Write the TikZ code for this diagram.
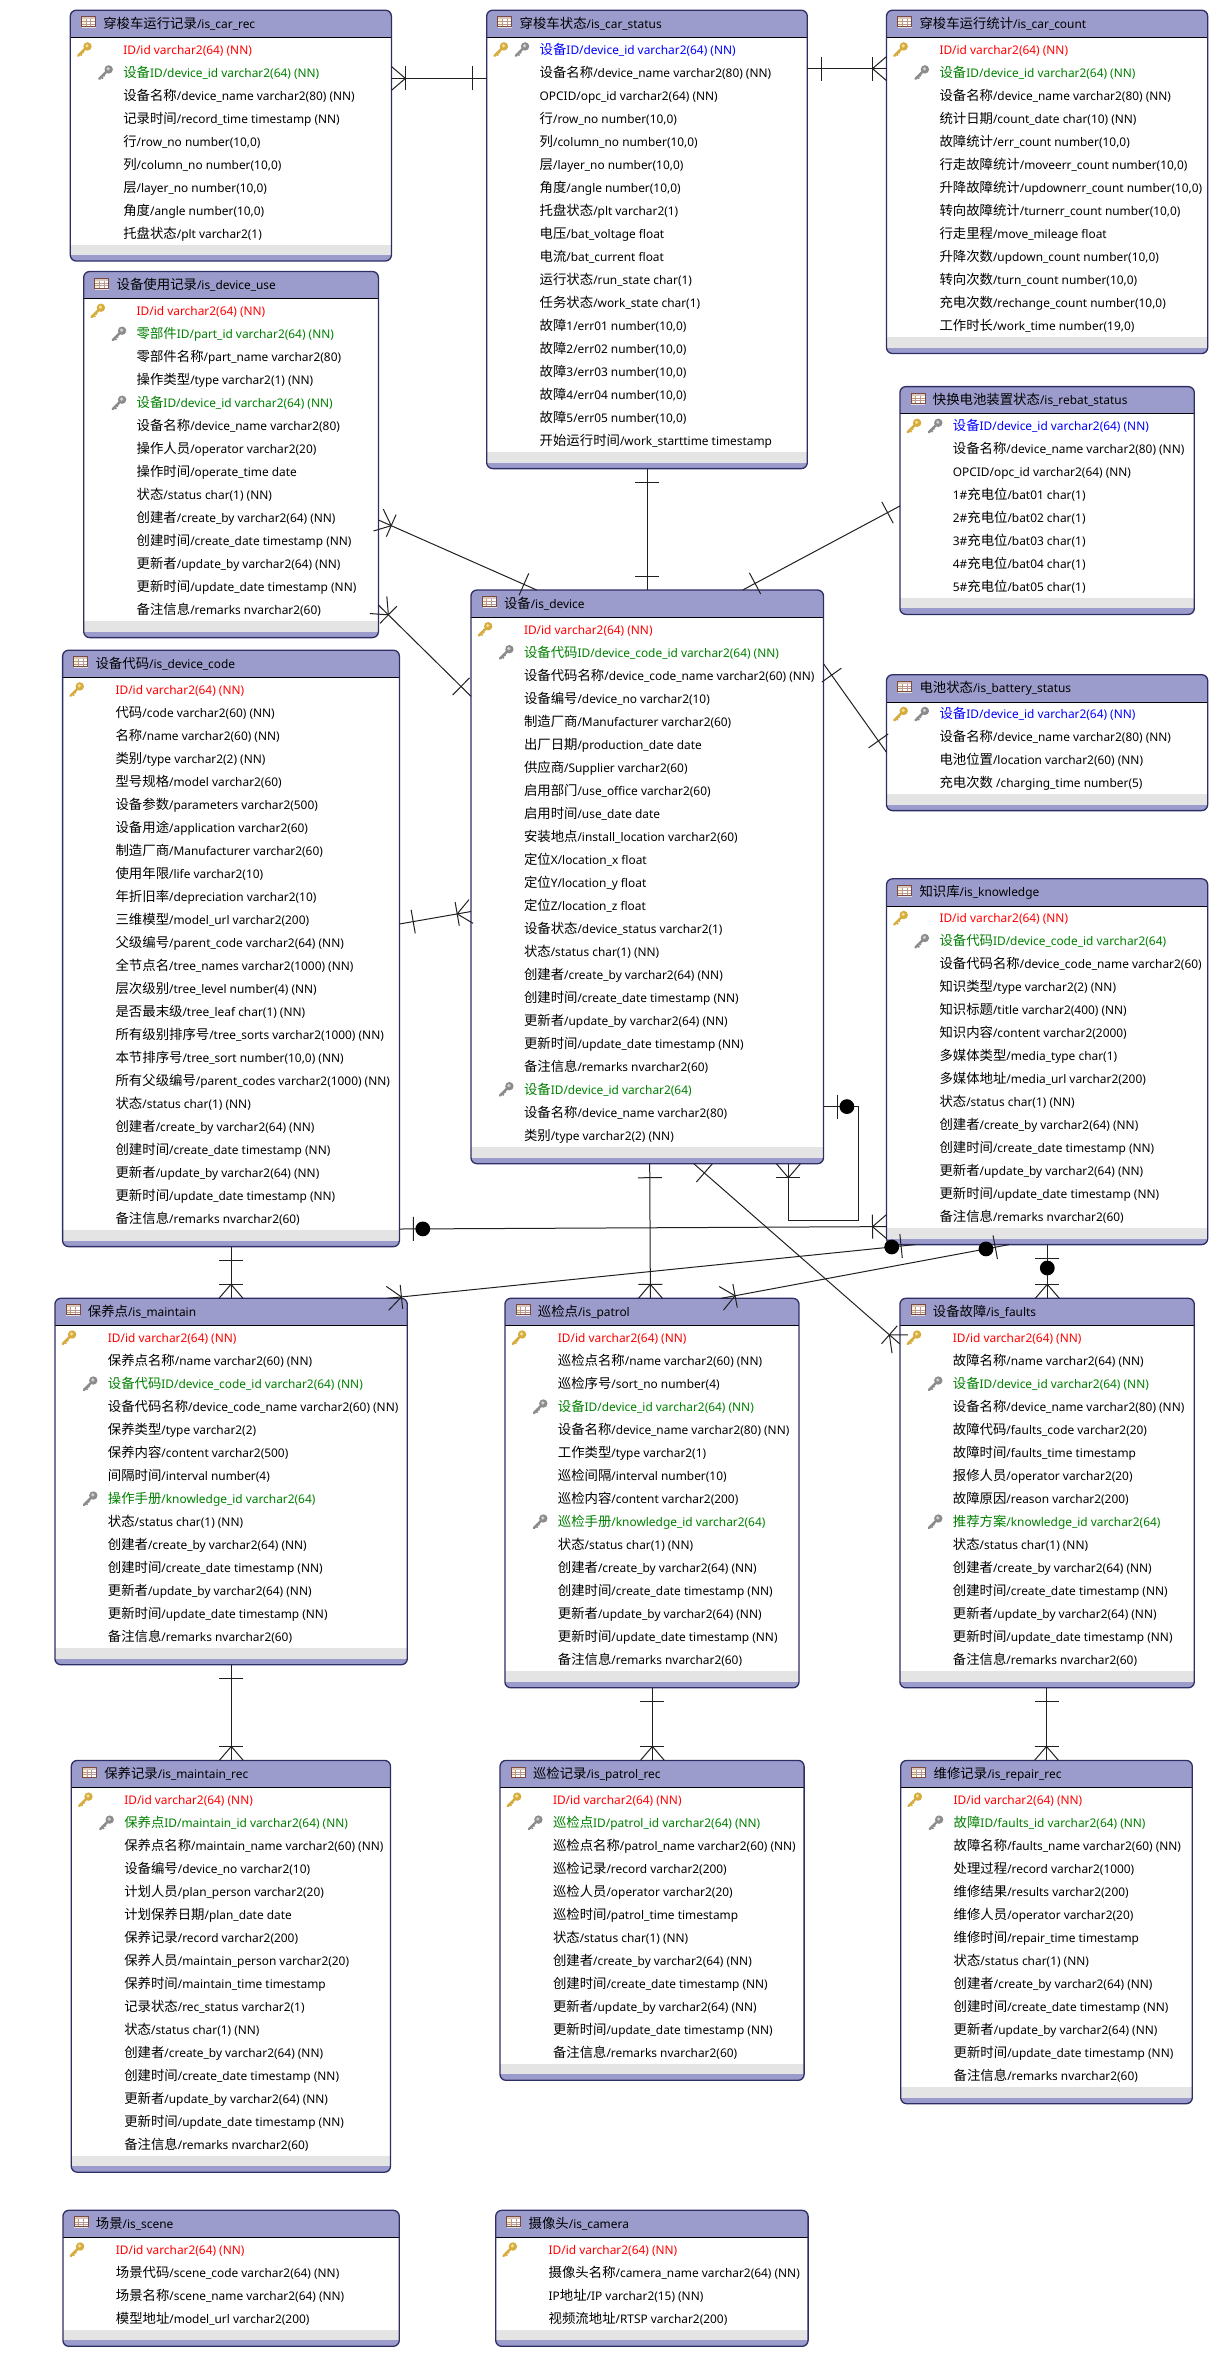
\documentclass[tikz,border=0pt]{standalone}
\usepackage{fontspec}
\setmainfont{Noto Sans}
\newfontfamily\cjkf[Scale=1.125]{Noto Sans CJK SC}
\usetikzlibrary{calc}
\newcount\cjkc \cjkc="4E00
\loop\ifnum\cjkc<"A000 \XeTeXcharclass\cjkc=100 \advance\cjkc by 1 \repeat
\XeTeXinterchartokenstate=1
\XeTeXinterchartoks 0 100={\begingroup\cjkf}
\XeTeXinterchartoks 4095 100={\begingroup\cjkf}
\XeTeXinterchartoks 100 0={\endgroup}
\XeTeXinterchartoks 100 4095={\endgroup}
\catcode`\_=12
\definecolor{hdr}{HTML}{9C9CCC}
\definecolor{edge}{HTML}{2E2E66}
\definecolor{band}{HTML}{E4E4E4}
\definecolor{relc}{HTML}{202020}
\definecolor{goldk}{HTML}{D6AC3E}
\definecolor{goldl}{HTML}{F4DE94}
\definecolor{greyk}{HTML}{8C8C8C}
\definecolor{greyl}{HTML}{D0D0D0}
\definecolor{fkgreen}{HTML}{008000}
\definecolor{icb}{HTML}{7A4A40}
\definecolor{ict}{HTML}{D8C8C0}
\definecolor{icc}{HTML}{FBF3D0}
\definecolor{icg}{HTML}{B89A90}
\tikzset{
  tablebox/.style={anchor=north west,inner sep=0pt,outer sep=0pt,rounded corners=3pt,fill=white},
  rowtext/.style={anchor=base west,inner sep=0pt,outer sep=0pt,font=\fontsize{5.95}{7}\selectfont},
  rel/.style={draw=relc,line width=0.5pt},
}
\newcount\rownum
\newcommand\tbl[6]{%
  \xdef\tn{#1}\xdef\tl{#2}\xdef\tt{#4}\global\rownum=0
  \node[tablebox,minimum width={(#3-#2)*0.5pt},minimum height={(#5-#4)*0.5pt}] (#1) at (#2,#4) {};
  \begin{scope}
    \clip[rounded corners=3pt] (#1.north west) rectangle (#1.south east);
    \fill[hdr] (#2,#4) rectangle (#3,{#4+27.3});
    \fill[band] (#2,{#5-16.5}) rectangle (#3,{#5-6});
    \fill[hdr] (#2,{#5-6}) rectangle (#3,#5);
  \end{scope}
  \draw[black,line width=0.5pt] (#2,{#4+27.3}) -- (#3,{#4+27.3});
  \draw[edge,line width=0.65pt,rounded corners=3pt] (#1.north west) rectangle (#1.south east);
  \tblicon{#2}{#4}
  \node[rowtext] (#1-title) at ({#2+33},{#4+18}) {#6};
}
\newcommand\tblicon[2]{%
  \begin{scope}[shift={({#1+11},{#2+6.5})}]
    \fill[black!12] (0.5,1) rectangle (14.5,11.5);
    \fill[white] (0,0) rectangle (14,10);
    \fill[ict] (0,0) rectangle (14,2.6);
    \fill[icc] (0,2.6) rectangle (4.6,10);
    \draw[icg,line width=0.22pt] (4.6,2.6) -- (4.6,10) (9.3,2.6) -- (9.3,10) (0,5) -- (14,5) (0,7.5) -- (14,7.5);
    \draw[icb,line width=0.4pt] (0,0) rectangle (14,10);
  \end{scope}
}
\newcommand\keyicon[4]{% x y dark light
  \begin{scope}[shift={(#1,#2)}]
    \draw[#3,line width=1.2pt,line cap=round] (-6.2,6.2) -- (2,-2);
    \draw[#3,line width=0.8pt] (-4.2,4.2) -- (-2.4,6) (-2.2,2.2) -- (-0.8,3.6);
    \fill[#3] (3.2,-3.2) circle (4.2);
    \fill[#4] (2.7,-3.8) circle (1.8);
  \end{scope}
}
\newcommand\rowcore[2]{%
  \global\advance\rownum by 1
  \pgfmathsetmacro\ty{\tt+39.4+23*(\the\rownum-1)}%
  \pgfmathsetmacro\tx{\tl+53}%
  \node[rowtext,text=#1] (\tn-\the\rownum) at (\tx,\ty+4.6) {#2};
}
\newcommand\pkhere{\pgfmathsetmacro\ky{\tt+39.4+23*\the\rownum}\pgfmathsetmacro\kx{\tl+14}\keyicon{\kx}{\ky}{goldk}{goldl}}
\newcommand\fkhere{\pgfmathsetmacro\ky{\tt+39.4+23*\the\rownum}\pgfmathsetmacro\kx{\tl+35.2}\keyicon{\kx}{\ky}{greyk}{greyl}}
\newcommand\RowT[1]{\rowcore{black}{#1}}
\newcommand\RowK[1]{\pkhere\rowcore{red}{#1}}
\newcommand\RowF[1]{\fkhere\rowcore{fkgreen}{#1}}
\newcommand\RowB[1]{\pkhere\fkhere\rowcore{blue}{#1}}
\newcommand\RowId{\RowK{ID/id varchar2(64) (NN)}}
\newcommand\RowAudit{%
  \RowT{创建者/create_by varchar2(64) (NN)}
  \RowT{创建时间/create_date timestamp (NN)}
  \RowT{更新者/update_by varchar2(64) (NN)}
  \RowT{更新时间/update_date timestamp (NN)}
  \RowT{备注信息/remarks nvarchar2(60)}
}
\newcommand\mkone[2]{\draw[rel] ($(#1)!7pt!(#2)!6pt!90:(#2)$) -- ($(#1)!7pt!(#2)!6pt!-90:(#2)$);}
\newcommand\mkmany[2]{\mkone{#1}{#2}\draw[rel] ($(#1)!6pt!90:(#2)$) -- ($(#1)!7pt!(#2)$) -- ($(#1)!6pt!-90:(#2)$);}
\newcommand\mkdot[2]{\mkone{#1}{#2}\fill[black] ($(#1)!11.7pt!(#2)$) circle (3.7pt);}
\newcommand\link[5]{%
  \coordinate (#1a) at (#2);
  \coordinate (#1b) at (#3);
  \draw[rel] (#1a) -- (#1b);
  #4{#1a}{#1b}
  #5{#1b}{#1a}
}
\begin{document}
\begin{tikzpicture}[x=0.5pt,y=-0.5pt]
\useasboundingbox (0,0) rectangle (1218,2357);

\tbl{car_rec}{70.3}{391.4}{10.2}{261}{穿梭车运行记录/is_car_rec}
\RowId
\RowF{设备ID/device_id varchar2(64) (NN)}
\RowT{设备名称/device_name varchar2(80) (NN)}
\RowT{记录时间/record_time timestamp (NN)}
\RowT{行/row_no number(10,0)}
\RowT{列/column_no number(10,0)}
\RowT{层/layer_no number(10,0)}
\RowT{角度/angle number(10,0)}
\RowT{托盘状态/plt varchar2(1)}

\tbl{car_status}{486.7}{807.3}{10.2}{468.6}{穿梭车状态/is_car_status}
\RowB{设备ID/device_id varchar2(64) (NN)}
\RowT{设备名称/device_name varchar2(80) (NN)}
\RowT{OPCID/opc_id varchar2(64) (NN)}
\RowT{行/row_no number(10,0)}
\RowT{列/column_no number(10,0)}
\RowT{层/layer_no number(10,0)}
\RowT{角度/angle number(10,0)}
\RowT{托盘状态/plt varchar2(1)}
\RowT{电压/bat_voltage float}
\RowT{电流/bat_current float}
\RowT{运行状态/run_state char(1)}
\RowT{任务状态/work_state char(1)}
\RowT{故障1/err01 number(10,0)}
\RowT{故障2/err02 number(10,0)}
\RowT{故障3/err03 number(10,0)}
\RowT{故障4/err04 number(10,0)}
\RowT{故障5/err05 number(10,0)}
\RowT{开始运行时间/work_starttime timestamp}

\tbl{car_count}{886.5}{1207.7}{10.2}{353.5}{穿梭车运行统计/is_car_count}
\RowId
\RowF{设备ID/device_id varchar2(64) (NN)}
\RowT{设备名称/device_name varchar2(80) (NN)}
\RowT{统计日期/count_date char(10) (NN)}
\RowT{故障统计/err_count number(10,0)}
\RowT{行走故障统计/moveerr_count number(10,0)}
\RowT{升降故障统计/updownerr_count number(10,0)}
\RowT{转向故障统计/turnerr_count number(10,0)}
\RowT{行走里程/move_mileage float}
\RowT{升降次数/updown_count number(10,0)}
\RowT{转向次数/turn_count number(10,0)}
\RowT{充电次数/rechange_count number(10,0)}
\RowT{工作时长/work_time number(19,0)}

\tbl{device_use}{83.7}{378.4}{271.5}{637.6}{设备使用记录/is_device_use}
\RowId
\RowF{零部件ID/part_id varchar2(64) (NN)}
\RowT{零部件名称/part_name varchar2(80)}
\RowT{操作类型/type varchar2(1) (NN)}
\RowF{设备ID/device_id varchar2(64) (NN)}
\RowT{设备名称/device_name varchar2(80)}
\RowT{操作人员/operator varchar2(20)}
\RowT{操作时间/operate_time date}
\RowT{状态/status char(1) (NN)}
\RowAudit

\tbl{rebat}{899.9}{1194.3}{386.6}{614.4}{快换电池装置状态/is_rebat_status}
\RowB{设备ID/device_id varchar2(64) (NN)}
\RowT{设备名称/device_name varchar2(80) (NN)}
\RowT{OPCID/opc_id varchar2(64) (NN)}
\RowT{1\#充电位/bat01 char(1)}
\RowT{2\#充电位/bat02 char(1)}
\RowT{3\#充电位/bat03 char(1)}
\RowT{4\#充电位/bat04 char(1)}
\RowT{5\#充电位/bat05 char(1)}

\tbl{device}{471}{823.5}{590}{1163.7}{设备/is_device}
\RowId
\RowF{设备代码ID/device_code_id varchar2(64) (NN)}
\RowT{设备代码名称/device_code_name varchar2(60) (NN)}
\RowT{设备编号/device_no varchar2(10)}
\RowT{制造厂商/Manufacturer varchar2(60)}
\RowT{出厂日期/production_date date}
\RowT{供应商/Supplier varchar2(60)}
\RowT{启用部门/use_office varchar2(60)}
\RowT{启用时间/use_date date}
\RowT{安装地点/install_location varchar2(60)}
\RowT{定位X/location_x float}
\RowT{定位Y/location_y float}
\RowT{定位Z/location_z float}
\RowT{设备状态/device_status varchar2(1)}
\RowT{状态/status char(1) (NN)}
\RowAudit
\RowF{设备ID/device_id varchar2(64)}
\RowT{设备名称/device_name varchar2(80)}
\RowT{类别/type varchar2(2) (NN)}

\tbl{battery}{886.5}{1207.7}{674.7}{810.6}{电池状态/is_battery_status}
\RowB{设备ID/device_id varchar2(64) (NN)}
\RowT{设备名称/device_name varchar2(80) (NN)}
\RowT{电池位置/location varchar2(60) (NN)}
\RowT{充电次数 /charging_time number(5)}

\tbl{device_code}{62.6}{399.4}{650.2}{1246.6}{设备代码/is_device_code}
\RowId
\RowT{代码/code varchar2(60) (NN)}
\RowT{名称/name varchar2(60) (NN)}
\RowT{类别/type varchar2(2) (NN)}
\RowT{型号规格/model varchar2(60)}
\RowT{设备参数/parameters varchar2(500)}
\RowT{设备用途/application varchar2(60)}
\RowT{制造厂商/Manufacturer varchar2(60)}
\RowT{使用年限/life varchar2(10)}
\RowT{年折旧率/depreciation varchar2(10)}
\RowT{三维模型/model_url varchar2(200)}
\RowT{父级编号/parent_code varchar2(64) (NN)}
\RowT{全节点名/tree_names varchar2(1000) (NN)}
\RowT{层次级别/tree_level number(4) (NN)}
\RowT{是否最末级/tree_leaf char(1) (NN)}
\RowT{所有级别排序号/tree_sorts varchar2(1000) (NN)}
\RowT{本节排序号/tree_sort number(10,0) (NN)}
\RowT{所有父级编号/parent_codes varchar2(1000) (NN)}
\RowT{状态/status char(1) (NN)}
\RowAudit

\tbl{knowledge}{886.5}{1207.7}{878.8}{1244.6}{知识库/is_knowledge}
\RowId
\RowF{设备代码ID/device_code_id varchar2(64)}
\RowT{设备代码名称/device_code_name varchar2(60)}
\RowT{知识类型/type varchar2(2) (NN)}
\RowT{知识标题/title varchar2(400) (NN)}
\RowT{知识内容/content varchar2(2000)}
\RowT{多媒体类型/media_type char(1)}
\RowT{多媒体地址/media_url varchar2(200)}
\RowT{状态/status char(1) (NN)}
\RowAudit

\tbl{maintain}{54.9}{407.3}{1298.3}{1664.7}{保养点/is_maintain}
\RowId
\RowT{保养点名称/name varchar2(60) (NN)}
\RowF{设备代码ID/device_code_id varchar2(64) (NN)}
\RowT{设备代码名称/device_code_name varchar2(60) (NN)}
\RowT{保养类型/type varchar2(2)}
\RowT{保养内容/content varchar2(500)}
\RowT{间隔时间/interval number(4)}
\RowF{操作手册/knowledge_id varchar2(64)}
\RowT{状态/status char(1) (NN)}
\RowAudit

\tbl{patrol}{504.9}{799}{1298.3}{1687.8}{巡检点/is_patrol}
\RowId
\RowT{巡检点名称/name varchar2(60) (NN)}
\RowT{巡检序号/sort_no number(4)}
\RowF{设备ID/device_id varchar2(64) (NN)}
\RowT{设备名称/device_name varchar2(80) (NN)}
\RowT{工作类型/type varchar2(1)}
\RowT{巡检间隔/interval number(10)}
\RowT{巡检内容/content varchar2(200)}
\RowF{巡检手册/knowledge_id varchar2(64)}
\RowT{状态/status char(1) (NN)}
\RowAudit

\tbl{faults}{899.9}{1194.3}{1298.3}{1687.8}{设备故障/is_faults}
\RowId
\RowT{故障名称/name varchar2(64) (NN)}
\RowF{设备ID/device_id varchar2(64) (NN)}
\RowT{设备名称/device_name varchar2(80) (NN)}
\RowT{故障代码/faults_code varchar2(20)}
\RowT{故障时间/faults_time timestamp}
\RowT{报修人员/operator varchar2(20)}
\RowT{故障原因/reason varchar2(200)}
\RowF{推荐方案/knowledge_id varchar2(64)}
\RowT{状态/status char(1) (NN)}
\RowAudit

\tbl{maintain_rec}{71.3}{390.5}{1760.4}{2172.2}{保养记录/is_maintain_rec}
\RowId
\RowF{保养点ID/maintain_id varchar2(64) (NN)}
\RowT{保养点名称/maintain_name varchar2(60) (NN)}
\RowT{设备编号/device_no varchar2(10)}
\RowT{计划人员/plan_person varchar2(20)}
\RowT{计划保养日期/plan_date date}
\RowT{保养记录/record varchar2(200)}
\RowT{保养人员/maintain_person varchar2(20)}
\RowT{保养时间/maintain_time timestamp}
\RowT{记录状态/rec_status varchar2(1)}
\RowT{状态/status char(1) (NN)}
\RowAudit

\tbl{patrol_rec}{500}{804.1}{1760.4}{2080.3}{巡检记录/is_patrol_rec}
\RowId
\RowF{巡检点ID/patrol_id varchar2(64) (NN)}
\RowT{巡检点名称/patrol_name varchar2(60) (NN)}
\RowT{巡检记录/record varchar2(200)}
\RowT{巡检人员/operator varchar2(20)}
\RowT{巡检时间/patrol_time timestamp}
\RowT{状态/status char(1) (NN)}
\RowAudit

\tbl{repair_rec}{900.7}{1192.3}{1760.4}{2103.7}{维修记录/is_repair_rec}
\RowId
\RowF{故障ID/faults_id varchar2(64) (NN)}
\RowT{故障名称/faults_name varchar2(60) (NN)}
\RowT{处理过程/record varchar2(1000)}
\RowT{维修结果/results varchar2(200)}
\RowT{维修人员/operator varchar2(20)}
\RowT{维修时间/repair_time timestamp}
\RowT{状态/status char(1) (NN)}
\RowAudit

\tbl{scene}{62.9}{399.3}{2210.3}{2346.3}{场景/is_scene}
\RowId
\RowT{场景代码/scene_code varchar2(64) (NN)}
\RowT{场景名称/scene_name varchar2(64) (NN)}
\RowT{模型地址/model_url varchar2(200)}

\tbl{camera}{495.7}{808.1}{2210.3}{2346.3}{摄像头/is_camera}
\RowId
\RowT{摄像头名称/camera_name varchar2(64) (NN)}
\RowT{IP地址/IP varchar2(15) (NN)}
\RowT{视频流地址/RTSP varchar2(200)}

% connectors
\link{la}{car_rec.east |- 0,78.4}{car_status.west |- 0,78.4}{\mkmany}{\mkone}
\link{lb}{car_status.east |- 0,68.6}{car_count.west |- 0,68.6}{\mkone}{\mkmany}
\link{lc}{car_status.south}{device.north -| car_status.south}{\mkone}{\mkone}
\link{ld}{rebat.west |- 0,506}{device.north -| 742.7,0}{\mkone}{\mkone}
\link{le}{device_use.east |- 0,520}{device.north -| 536.7,0}{\mkmany}{\mkone}
\link{lf}{device_use.east |- 0,605}{device.west |- 0,696.3}{\mkmany}{\mkone}
\link{lg}{device_code.east |- 0,924}{device.west |- 0,911.5}{\mkone}{\mkmany}
\link{lh}{device_code.east |- 0,1229}{knowledge.west |- 0,1226.6}{\mkdot}{\mkmany}
\link{li}{device.south -| 649.7,0}{patrol.north -| 650.4,0}{\mkone}{\mkmany}
\link{lj}{device.south -| 693.8,0}{faults.west |- 0,1344}{\mkone}{\mkmany}
\link{lk}{knowledge.south -| 915,0}{maintain.north -| 387.5,0}{\mkdot}{\mkmany}
\link{ll}{knowledge.south -| 1009,0}{patrol.north -| 721.3,0}{\mkdot}{\mkmany}
\link{lm}{knowledge.south -| 1047.3,0}{faults.north -| 1047.3,0}{\mkdot}{\mkmany}
\link{ln}{device_code.south}{maintain.north -| device_code.south}{\mkone}{\mkmany}
\link{lo}{maintain.south -| 231.3,0}{maintain_rec.north -| 231.3,0}{\mkone}{\mkmany}
\link{lp}{patrol.south -| 652.4,0}{patrol_rec.north -| 652.4,0}{\mkone}{\mkmany}
\link{lq}{faults.south -| 1046.5,0}{repair_rec.north -| 1046.5,0}{\mkone}{\mkmany}
\link{lr}{battery.west |- 0,752.3}{device.east |- 0,663.7}{\mkone}{\mkone}
% self-reference of is_device
\coordinate (lsa) at (device.east |- 0,1106.6);
\coordinate (lsb) at (device.south -| 788.4,0);
\coordinate (lsc) at (858.5,1106.6);
\coordinate (lsd) at (788.4,1220.5);
\draw[rel] (lsa) -- (lsc) -- (858.5,1220.5) -- (lsd) -- (lsb);
\mkdot{lsa}{lsc}
\mkmany{lsb}{lsd}
\end{tikzpicture}
\end{document}
